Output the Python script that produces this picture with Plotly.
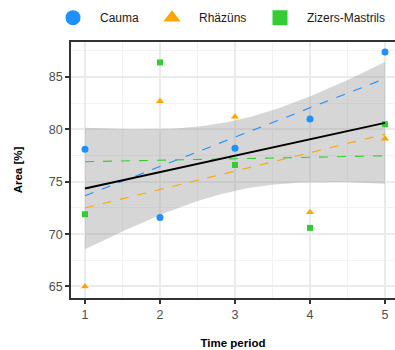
import numpy as np
import plotly.graph_objects as go

time_period = [1, 2, 3, 4, 5]
cauma = [78.1, 71.6, 78.2, 81.0, 87.4]
rhazuns = [65.0, 82.7, 81.2, 72.1, 79.1]
zizers = [71.9, 86.4, 76.6, 70.6, 80.5]

sites = ["Cauma", "Rhäzüns", "Zizers-Mastrils"]
series = [cauma, rhazuns, zizers]
colors = ["#1E90FF", "#FFA500", "#32CD32"]
symbols = ["circle", "triangle-up", "square"]
pt_sizes = [7, 7, 6]

T_975_DF13 = 2.1604  # t quantile for 95% CI, 13 df


def linfit(x, y):
    x = np.asarray(x, float)
    y = np.asarray(y, float)
    b, a = np.polyfit(x, y, 1)
    return a, b


fig = go.Figure()

# overall fit with confidence band
all_x = np.array(time_period * 3, float)
all_y = np.array(cauma + rhazuns + zizers, float)
a, b = linfit(all_x, all_y)
n = len(all_x)
resid = all_y - (a + b * all_x)
s = np.sqrt(np.sum(resid ** 2) / (n - 2))
xbar = all_x.mean()
sxx = np.sum((all_x - xbar) ** 2)
xs = np.linspace(min(time_period), max(time_period), 80)
fit = a + b * xs
se = s * np.sqrt(1.0 / n + (xs - xbar) ** 2 / sxx)
lo = fit - T_975_DF13 * se
hi = fit + T_975_DF13 * se

fig.add_trace(go.Scatter(
    x=np.concatenate([xs, xs[::-1]]), y=np.concatenate([hi, lo[::-1]]),
    fill="toself", fillcolor="rgba(153,153,153,0.4)", line=dict(width=0),
    mode="lines", showlegend=False, hoverinfo="skip"))

# per-site points and dashed fits
for name, vals, col, sym, sz in zip(sites, series, colors, symbols, pt_sizes):
    fig.add_trace(go.Scatter(
        x=time_period, y=vals, mode="markers", showlegend=False,
        marker=dict(color=col, symbol=sym, size=sz, line=dict(width=0))))
for name, vals, col in zip(sites, series, colors):
    ai, bi = linfit(time_period, vals)
    xl = np.array([min(time_period), max(time_period)], float)
    fig.add_trace(go.Scatter(
        x=xl, y=ai + bi * xl, mode="lines", showlegend=False,
        line=dict(color=col, width=1.1, dash="dash")))

fig.add_trace(go.Scatter(
    x=xs, y=fit, mode="lines", showlegend=False,
    line=dict(color="black", width=2)))

# legend entries, one small legend per site
legend_names = ["legend", "legend2", "legend3"]
legend_x = [0.1165, 0.367, 0.6405]
for name, col, sym, lg in zip(sites, colors, symbols, legend_names):
    fig.add_trace(go.Scatter(
        x=[None], y=[None], mode="markers", name=name, legend=lg,
        marker=dict(color=col, symbol=sym, size=15, line=dict(width=0))))

legend_common = dict(orientation="h", xref="container", y=0.991, yref="container",
                     yanchor="top", xanchor="left", itemwidth=44,
                     font=dict(size=12, color="#1a1a1a"))

fig.update_layout(
    width=395, height=350,
    margin=dict(l=71, r=0, t=42, b=52),
    paper_bgcolor="white", plot_bgcolor="white",
    font=dict(family="Liberation Sans, Arial, sans-serif", size=12, color="#4d4d4d"),
    legend=dict(x=legend_x[0], **legend_common),
    legend2=dict(x=legend_x[1], **legend_common),
    legend3=dict(x=legend_x[2], **legend_common),
    xaxis=dict(
        range=[0.8133, 5.1333], tickvals=[1, 2, 3, 4, 5],
        showgrid=True, gridcolor="#ebebeb", gridwidth=2,
        minor=dict(tickvals=[1.5, 2.5, 3.5, 4.5], showgrid=True,
                   gridcolor="#f2f2f2", gridwidth=1),
        showline=True, linecolor="#333333", linewidth=1.5, mirror=True,
        ticks="outside", ticklen=4, tickwidth=2, tickcolor="#333333",
        zeroline=False, tickfont=dict(size=12.5),
        title=dict(text="<b>Time period</b>", font=dict(size=11.5, color="black"),
                   standoff=18),
    ),
    yaxis=dict(
        range=[63.9, 88.35], tickvals=[65, 70, 75, 80, 85],
        showgrid=True, gridcolor="#ebebeb", gridwidth=2,
        minor=dict(tickvals=[67.5, 72.5, 77.5, 82.5, 87.5], showgrid=True,
                   gridcolor="#f2f2f2", gridwidth=1),
        showline=True, linecolor="#333333", linewidth=1.5,
        ticks="outside", ticklen=4, tickwidth=2, tickcolor="#333333",
        zeroline=False, tickfont=dict(size=12.5),
        title=dict(text="<b>Area [%]</b>", font=dict(size=11.5, color="black"),
                   standoff=24),
    ),
)

fig.write_html("out.html")
